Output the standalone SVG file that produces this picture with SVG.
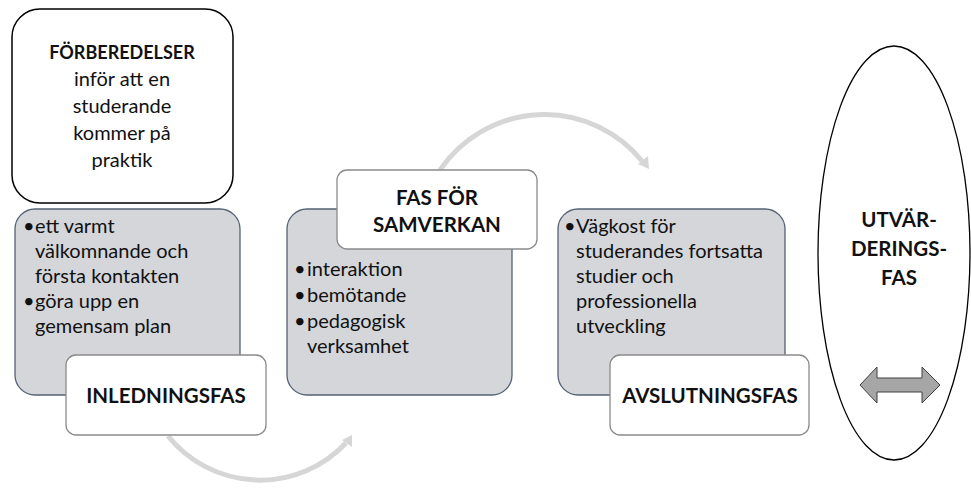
<svg xmlns="http://www.w3.org/2000/svg" width="971" height="488" viewBox="0 0 971 488">
<style>
text{font-family:Lato,"Liberation Sans",sans-serif;fill:#111}
.b{font-weight:bold}
.c{text-anchor:middle}
.t{font-size:20px}
.h{font-size:20.5px;font-weight:bold}
.gray{fill:#d4d6da;stroke:#556274;stroke-width:1.3}
.lab{fill:#fff;stroke:#8a8a8a;stroke-width:1.3}
.arc{fill:none;stroke:#d6d6d6;stroke-width:5}
</style>
<rect width="971" height="488" fill="#fff"/>
<g id="forberedelser">
<rect x="12" y="9" width="221" height="194" rx="28" fill="#fff" stroke="#000" stroke-width="1.5"/>
<text class="c t" x="122" y="59"><tspan class="b" style="font-size:18px">FÖRBEREDELSER</tspan><tspan x="122" y="86">inför att en</tspan><tspan x="122" y="113">studerande</tspan><tspan x="122" y="140">kommer på</tspan><tspan x="122" y="167">praktik</tspan></text>
</g>
<g id="connectors">
<path class="arc" d="M168,436 A118,118 0 0 0 346,443"/>
<polygon points="352,435 352,447 342,440" fill="#d6d6d6"/>
<path class="arc" d="M440,170 A126,126 0 0 1 642,161"/>
<polygon points="649,169 648,156 638,164" fill="#d6d6d6"/>
</g>
<g id="inledning">
<rect class="gray" x="15" y="209" width="225" height="186" rx="20"/>
<text class="t" x="23" y="233">•<tspan x="35">ett varmt</tspan><tspan x="35" y="258">välkomnande och</tspan><tspan x="35" y="283">första kontakten</tspan><tspan x="23" y="308">•</tspan><tspan x="35" y="308">göra upp en</tspan><tspan x="35" y="333">gemensam plan</tspan></text>
<rect class="lab" x="66" y="355" width="200" height="80" rx="10"/>
<text class="h c" x="166" y="403">INLEDNINGSFAS</text>
</g>
<g id="samverkan">
<rect class="gray" x="287" y="209" width="225" height="186" rx="20"/>
<text class="t" x="294" y="276">•<tspan x="307">interaktion</tspan><tspan x="294" y="302">•</tspan><tspan x="307" y="302">bemötande</tspan><tspan x="294" y="328">•</tspan><tspan x="307" y="328">pedagogisk</tspan><tspan x="307" y="353">verksamhet</tspan></text>
<rect class="lab" x="337" y="170" width="200" height="79" rx="10"/>
<text class="h c" x="437" y="205">FAS FÖR<tspan x="437" y="232">SAMVERKAN</tspan></text>
</g>
<g id="avslutning">
<rect class="gray" x="558" y="209" width="227" height="186" rx="20"/>
<text class="t" x="564" y="233">•<tspan x="576">Vägkost för</tspan><tspan x="576" y="258">studerandes fortsatta</tspan><tspan x="576" y="283">studier och</tspan><tspan x="576" y="308">professionella</tspan><tspan x="576" y="333">utveckling</tspan></text>
<rect class="lab" x="610" y="355" width="199" height="80" rx="10"/>
<text class="h c" x="710" y="403">AVSLUTNINGSFAS</text>
</g>
<g id="utvardering">
<ellipse cx="894" cy="253" rx="76" ry="207" fill="#fff" stroke="#000" stroke-width="1.3"/>
<text class="h c" x="899" y="227">UTVÄR-<tspan x="899" y="256">DERINGS-</tspan><tspan x="899" y="285">FAS</tspan></text>
<polygon points="860,385 877,367 877,378 922,378 922,367 940,385 922,403 922,392 877,392 877,403" fill="#a6a6a6" stroke="#404040" stroke-width="1"/>
</g>
</svg>
